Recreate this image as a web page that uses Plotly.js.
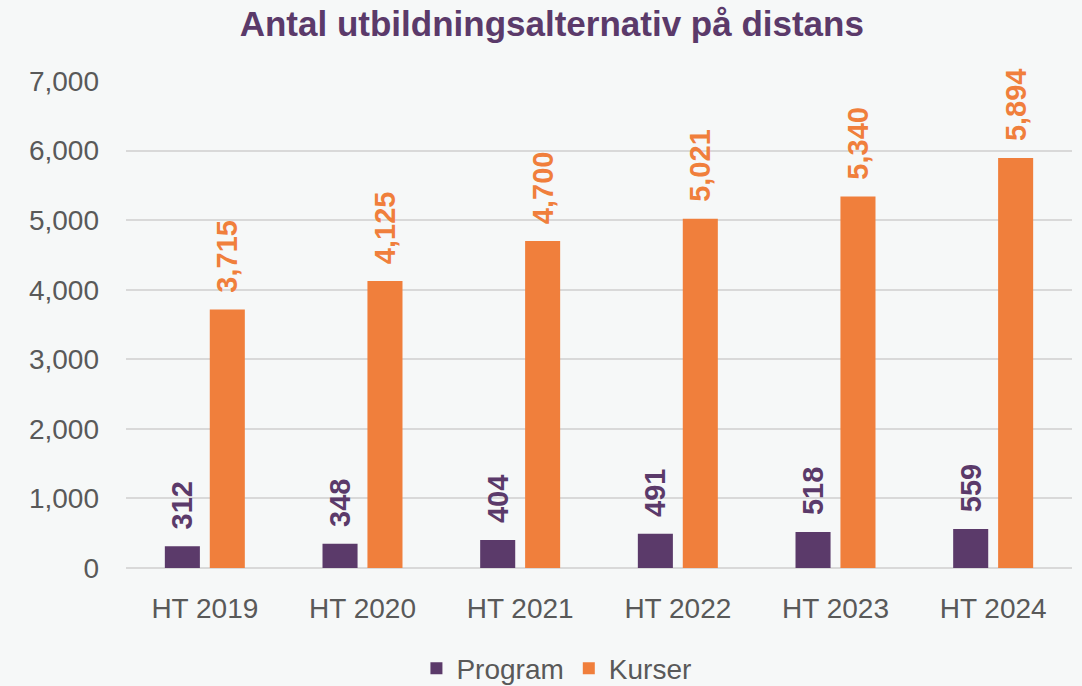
<!DOCTYPE html>
<html>
<head>
<meta charset="utf-8">
<script src="https://cdn.plot.ly/plotly-3.0.1.min.js"></script>
<style>html,body{margin:0;padding:0;background:#f6f8f8;}#chart{width:1082px;height:686px;}</style>
</head>
<body>
<div id="chart"></div>
<script>
const categories = ["HT 2019", "HT 2020", "HT 2021", "HT 2022", "HT 2023", "HT 2024"];
const programValues = [312, 348, 404, 491, 518, 559];
const kurserValues = [3715, 4125, 4700, 5021, 5340, 5894];
const seriesNames = ["Program", "Kurser"];
const yTicks = [0, 1000, 2000, 3000, 4000, 5000, 6000, 7000];

const purple = "#5b3a6a";
const orange = "#f07f3c";
const fmt = v => v.toLocaleString("en-US");
const pad = "\u00a0\u2009";

const traces = [
  {
    type: "bar", name: seriesNames[0], x: categories, y: programValues,
    marker: {color: purple},
    text: programValues.map(v => pad + fmt(v)), textposition: "outside", textangle: -90,
    cliponaxis: false, constraintext: "none",
    textfont: {family: "Liberation Sans, Arial, sans-serif", size: 29, color: purple, weight: "bold"},
    hoverinfo: "x+y"
  },
  {
    type: "bar", name: seriesNames[1], x: categories, y: kurserValues,
    marker: {color: orange},
    text: kurserValues.map(v => pad + fmt(v)), textposition: "outside", textangle: -90,
    cliponaxis: false, constraintext: "none",
    textfont: {family: "Liberation Sans, Arial, sans-serif", size: 29, color: orange, weight: "bold"},
    hoverinfo: "x+y"
  }
];

const layout = {
  width: 1082, height: 686,
  paper_bgcolor: "#f6f8f8", plot_bgcolor: "#f6f8f8",
  margin: {l: 126, r: 10, t: 81, b: 118, autoexpand: false},
  title: {
    text: "<b>Antal utbildningsalternativ på distans</b>",
    font: {family: "Liberation Sans, Arial, sans-serif", size: 35, color: purple},
    x: 0.51, xanchor: "center", xref: "container", y: 0.966, yanchor: "middle", yref: "container"
  },
  barmode: "group", bargap: 0.43, bargroupgap: 0.22,
  xaxis: {
    type: "category", tickangle: 0,
    tickfont: {family: "Liberation Sans, Arial, sans-serif", size: 28, color: "#595959"},
    showgrid: false, showline: false, zeroline: false, ticks: "",
    ticklabelstandoff: 21
  },
  yaxis: {
    range: [0, 7000], tickvals: yTicks, tickformat: ",d",
    tickfont: {family: "Liberation Sans, Arial, sans-serif", size: 28, color: "#595959"},
    showgrid: true, gridcolor: "#d9d9d9", gridwidth: 2,
    zeroline: true, zerolinecolor: "#d9d9d9", zerolinewidth: 2,
    showline: false, ticks: "", ticklabelstandoff: 26
  },
  showlegend: true,
  legend: {
    orientation: "h", x: 0.455, xanchor: "center", xref: "paper",
    y: -0.155, yanchor: "top",
    font: {family: "Liberation Sans, Arial, sans-serif", size: 28, color: "#595959"},
    bgcolor: "rgba(0,0,0,0)", itemwidth: 30
  }
};

Plotly.newPlot("chart", traces, layout, {displayModeBar: false, staticPlot: true});
</script>
</body>
</html>
